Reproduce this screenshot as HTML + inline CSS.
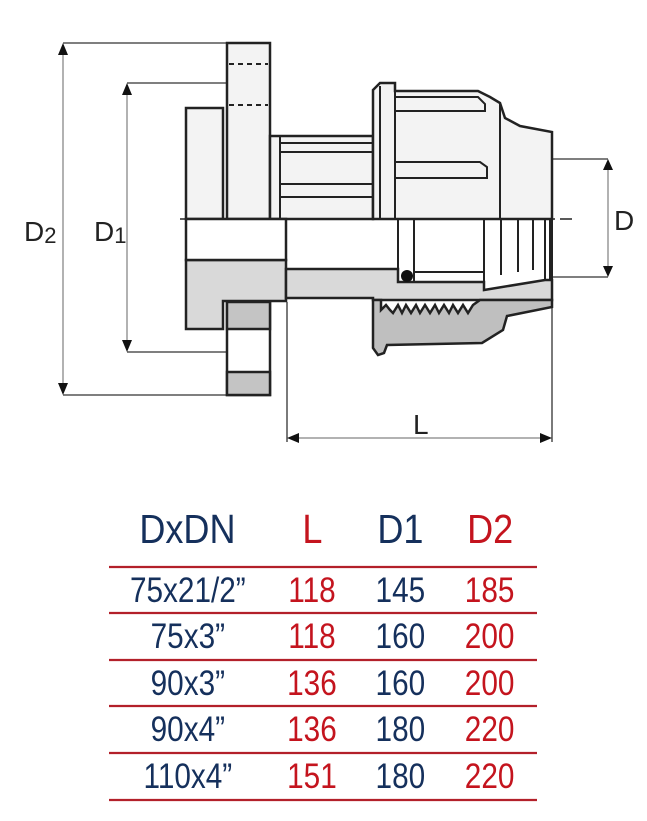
<!DOCTYPE html>
<html><head><meta charset="utf-8"><style>
html,body{margin:0;padding:0;background:#fff;width:647px;height:821px;overflow:hidden}
svg{display:block}
.t{font-family:"Liberation Sans",sans-serif}
</style></head><body>
<svg width="647" height="821" viewBox="0 0 647 821" xmlns="http://www.w3.org/2000/svg">
<g stroke="#222" fill="none">
 <!-- extension lines -->
 <g stroke-width="1.3" stroke="#333">
  <line x1="63" y1="43" x2="230" y2="43"/>
  <line x1="63" y1="395" x2="230" y2="395"/>
  <line x1="127" y1="83" x2="230" y2="83"/>
  <line x1="127" y1="352" x2="230" y2="352"/>
  <line x1="552" y1="159" x2="608" y2="159"/>
  <line x1="552" y1="277" x2="608" y2="277"/>
  <line x1="287" y1="302" x2="287" y2="442"/>
  <line x1="552" y1="300" x2="552" y2="442"/>
 </g>
 <!-- dim lines -->
 <g stroke="#999" stroke-width="1.5">
  <line x1="63" y1="50" x2="63" y2="388"/>
  <line x1="127" y1="90" x2="127" y2="345"/>
  <line x1="608" y1="166" x2="608" y2="270"/>
  <line x1="294" y1="438" x2="545" y2="438"/>
 </g>
 <g fill="#111" stroke="none">
  <polygon points="63,43 58,55 68,55"/><polygon points="63,395 58,383 68,383"/>
  <polygon points="127,83 122,95 132,95"/><polygon points="127,352 122,340 132,340"/>
  <polygon points="608,159 603,170 613,170"/><polygon points="608,277 603,266 613,266"/>
  <polygon points="287,438 299,433 299,443"/><polygon points="552,438 540,433 540,443"/>
 </g>

 <!-- upper half -->
 <g stroke-width="2.5" fill="#f3f3f3">
  <rect x="186" y="108" width="37" height="111"/>
  <rect x="227" y="43" width="43" height="176"/>
  <rect x="270" y="136" width="103" height="83"/>
  <polygon points="373,90 380,83 395,83 395,91 478,91 490,97 500,103 505,118 520,126 552,132 552,219 373,219"/>
 </g>
 <g stroke-width="2" stroke-dasharray="5,4">
  <line x1="229" y1="64" x2="268" y2="64"/>
  <line x1="229" y1="105" x2="268" y2="105"/>
 </g>
 <g stroke-width="2">
  <line x1="280" y1="136" x2="280" y2="219"/>
  <line x1="280" y1="143" x2="373" y2="143"/>
  <line x1="280" y1="152" x2="373" y2="152"/>
  <line x1="280" y1="184" x2="373" y2="184"/>
  <line x1="280" y1="197" x2="373" y2="197"/>
  <line x1="380" y1="86" x2="380" y2="219"/>
  <line x1="395" y1="91" x2="395" y2="219"/>
  <polyline points="395,97 478,97 485,104 485,111 395,111"/>
  <polyline points="395,162 480,162 487,167 487,178 395,178"/>
  <line x1="500" y1="103" x2="500" y2="219"/>
 </g>

 <!-- lower half -->
 <g stroke-width="2.5">
  <polygon fill="#d9d9d9" points="186,260 286,260 286,301 223,301 223,329 186,329"/>
  <rect x="186" y="219" width="100" height="41" fill="#fff"/>
  <rect x="227" y="302" width="43" height="93" fill="#fff"/>
  <rect x="227" y="302" width="43" height="27" fill="#c4c4c4"/>
  <rect x="227" y="372" width="43" height="23" fill="#c4c4c4"/>
  <polygon fill="#d9d9d9" points="286,269 398,269 398,282 484,282 484,290 545,280 552,280 552,300 373,300 373,298 286,298"/>
  <polygon fill="#bfbfbf" points="373,300 381,300 381,310 386,305 390,310 393,313 398,305 402,313 406,305 411,313 416,305 420,313 425,305 430,313 435,305 439,313 444,305 449,313 453,305 458,313 463,305 468,313 473,305 480,300 552,300 552,307 507,316 503,330 482,343 387,345 384,353 378,355 373,348"/>
 </g>
 <g stroke-width="2">
  <line x1="286" y1="219" x2="286" y2="302"/>
  <line x1="398" y1="219" x2="398" y2="282"/>
  <line x1="414" y1="219" x2="414" y2="282"/>
  <line x1="414" y1="272" x2="484" y2="272"/>
  <line x1="484" y1="219" x2="484" y2="282"/>
  <line x1="501" y1="219" x2="501" y2="275"/>
  <line x1="518" y1="219" x2="518" y2="272"/>
  <line x1="533" y1="219" x2="533" y2="270"/>
  <line x1="545" y1="219" x2="545" y2="280"/>
  <line x1="550" y1="219" x2="550" y2="280"/>
  <line x1="552" y1="132" x2="552" y2="300"/>
 </g>
 <circle cx="407" cy="276" r="6" fill="#111" stroke="none"/>
 <line x1="180" y1="219" x2="572" y2="219" stroke="#222" stroke-width="1.5" stroke-dasharray="14,5"/>
</g>

<g class="t" fill="#222" font-size="28">
 <text x="24" y="241">D<tspan font-size="22" dy="2">2</tspan></text>
 <text x="94" y="241">D<tspan font-size="22" dy="2">1</tspan></text>
 <text x="614" y="230">D</text>
 <text x="413" y="434">L</text>
</g>

<!-- table -->
<g stroke="#b3202a" stroke-width="2.2">
 <line x1="109" y1="567" x2="537" y2="567"/>
 <line x1="109" y1="613" x2="537" y2="613"/>
 <line x1="109" y1="660" x2="537" y2="660"/>
 <line x1="109" y1="706" x2="537" y2="706"/>
 <line x1="109" y1="753" x2="537" y2="753"/>
 <line x1="109" y1="800" x2="537" y2="800"/>
</g>
<g class="t" text-anchor="middle">
 <g font-size="41" transform="translate(0,543) scale(0.88,1)">
  <text x="213" y="0" fill="#15305c">DxDN</text>
  <text x="355" y="0" fill="#c4141e">L</text>
  <text x="455" y="0" fill="#15305c">D1</text>
  <text x="557" y="0" fill="#c4141e">D2</text>
 </g>
 <g font-size="35" transform="scale(0.85,1)">
  <g fill="#15305c">
   <text x="221" y="602">75x21/2”</text>
   <text x="221" y="648">75x3”</text>
   <text x="221" y="695">90x3”</text>
   <text x="221" y="741">90x4”</text>
   <text x="221" y="788">110x4”</text>
   <text x="471" y="602">145</text>
   <text x="471" y="648">160</text>
   <text x="471" y="695">160</text>
   <text x="471" y="741">180</text>
   <text x="471" y="788">180</text>
  </g>
  <g fill="#c4141e">
   <text x="367" y="602">118</text>
   <text x="367" y="648">118</text>
   <text x="367" y="695">136</text>
   <text x="367" y="741">136</text>
   <text x="367" y="788">151</text>
   <text x="576" y="602">185</text>
   <text x="576" y="648">200</text>
   <text x="576" y="695">200</text>
   <text x="576" y="741">220</text>
   <text x="576" y="788">220</text>
  </g>
 </g>
</g>
</svg>
</body></html>
